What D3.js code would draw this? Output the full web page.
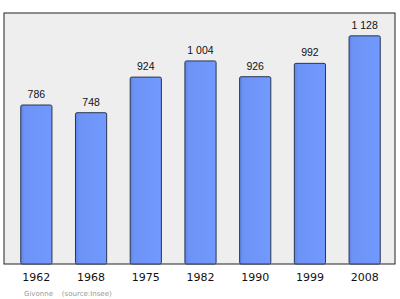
<!DOCTYPE html>
<html><head><meta charset="utf-8">
<script src="https://cdn.jsdelivr.net/npm/d3@7"></script>
<style>body{margin:0;background:#fff}svg{display:block}</style>
</head><body>
<script>
const years = ["1962","1968","1975","1982","1990","1999","2008"];
const population = [786, 748, 924, 1004, 926, 992, 1128];
const valueLabels = ["786","748","924","1 004","926","992","1 128"];
const caption = "Givonne    (source:Insee)";

const W = 400, H = 299;
const frame = {x0: 4, y0: 13, x1: 395, y1: 264};
const svg = d3.select("body").append("svg").attr("width", W).attr("height", H);

const defs = svg.append("defs");
const g = defs.append("linearGradient").attr("id","bg").attr("x1","0").attr("x2","1");
g.append("stop").attr("offset","0").attr("stop-color","#5f83e6");
g.append("stop").attr("offset","0.12").attr("stop-color","#6e93f6");
g.append("stop").attr("offset","1").attr("stop-color","#7199ff");

svg.append("rect").attr("x", frame.x0).attr("y", frame.y0)
  .attr("width", frame.x1 - frame.x0).attr("height", frame.y1 - frame.y0)
  .attr("fill", "#eeeeee").attr("stroke", "#222").attr("stroke-width", 1);

const x = d3.scaleBand().domain(years).range([9, 392]).paddingInner(0.43).paddingOuter(0.215);
const y = d3.scaleLinear().domain([0, 1241]).range([frame.y1, frame.y0]);

svg.selectAll("rect.bar").data(population).join("rect").attr("class","bar")
  .attr("x", (d,i) => x(years[i]))
  .attr("y", d => y(d))
  .attr("width", x.bandwidth())
  .attr("height", d => frame.y1 - y(d))
  .attr("rx", 1.5)
  .attr("fill", "url(#bg)").attr("stroke", "#2a3550").attr("stroke-width", 1);

svg.selectAll("text.val").data(population).join("text").attr("class","val")
  .attr("x", (d,i) => x(years[i]) + x.bandwidth()/2)
  .attr("y", d => y(d) - 7)
  .attr("text-anchor","middle")
  .attr("font-family","Liberation Sans, Arial, sans-serif").attr("font-size", 10.5)
  .attr("fill","#111")
  .text((d,i) => valueLabels[i]);

const axis = d3.axisBottom(x).tickSize(0).tickPadding(9);
const ax = svg.append("g").attr("transform", `translate(0,${frame.y1})`).call(axis);
ax.select(".domain").remove();
ax.selectAll("text").attr("font-family","DejaVu Sans, sans-serif").attr("font-size", 11).attr("fill","#111");

svg.append("text").attr("x", 24).attr("y", 296)
  .attr("font-family","DejaVu Sans, sans-serif").attr("font-size", 7).attr("fill","#999")
  .attr("xml:space","preserve").style("white-space","pre")
  .text(caption);
</script>
</body></html>
